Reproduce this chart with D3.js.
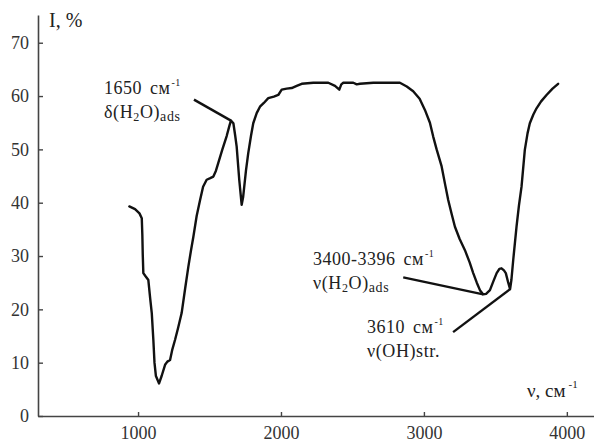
<!DOCTYPE html>
<html>
<head>
<meta charset="utf-8">
<script src="https://cdn.jsdelivr.net/npm/d3@7/dist/d3.min.js"></script>
<style>
  html, body { margin: 0; padding: 0; background: #fff; }
  svg { display: block; }
</style>
</head>
<body>
<svg id="chart" width="594" height="443"></svg>
<script>
// IR spectrum: wavenumber (cm^-1) vs. intensity (%)
const wavenumber = [
  939, 979, 1010, 1026, 1030, 1033, 1037, 1050, 1072, 1085, 1096, 1107, 1115, 1125,
  1147, 1165, 1189, 1205, 1224, 1240, 1259, 1280, 1305, 1330, 1352, 1370, 1387, 1410,
  1434, 1455, 1480, 1505, 1527, 1545, 1562, 1590, 1620, 1640, 1650, 1667, 1680, 1690,
  1708, 1725, 1735, 1743, 1755, 1771, 1790, 1806, 1830, 1853, 1880, 1911, 1950, 1981,
  2005, 2040, 2075, 2110, 2145, 2226, 2331, 2378, 2408, 2422, 2436, 2506, 2530, 2552,
  2646, 2832, 2880, 2925, 2970, 3007, 3042, 3065, 3089, 3124, 3150, 3170, 3195, 3217,
  3250, 3287, 3320, 3345, 3370, 3392, 3415, 3435, 3462, 3485, 3509, 3528, 3543, 3560,
  3573, 3590, 3603, 3612, 3625, 3648, 3665, 3683, 3706, 3725, 3741, 3765, 3788, 3820,
  3858, 3900, 3939
];
const intensity = [
  39.3, 38.8, 38.0, 37.1, 34.0, 30.2, 26.8, 26.3, 25.5, 22.0, 19.3, 14.3, 10.0, 7.5,
  6.1, 7.5, 9.6, 10.2, 10.5, 12.5, 14.3, 16.5, 19.3, 24.0, 28.0, 31.0, 33.6, 37.5,
  40.5, 43.0, 44.3, 44.6, 44.9, 46.0, 47.5, 50.0, 52.5, 54.5, 55.4, 54.9, 52.5, 50.5,
  44.3, 39.6, 41.0, 43.0, 46.0, 49.3, 52.5, 54.9, 56.8, 58.0, 58.7, 59.6, 59.9, 60.2,
  61.2, 61.4, 61.5, 61.9, 62.3, 62.5, 62.5, 61.9, 61.2, 62.2, 62.5, 62.5, 62.2, 62.3,
  62.5, 62.5, 61.8, 60.9, 59.5, 57.4, 55.0, 52.4, 50.0, 46.8, 43.2, 40.5, 37.8, 35.5,
  33.2, 31.1, 28.8, 26.8, 25.0, 23.6, 22.8, 22.9, 23.6, 25.2, 26.8, 27.6, 27.7, 27.3,
  26.8, 25.0, 23.8, 25.5, 29.3, 35.5, 39.5, 43.0, 49.9, 53.0, 54.9, 56.5, 57.7, 59.0,
  60.2, 61.4, 62.3
];

const xTicks = [1000, 2000, 3000, 4000];
const yTicks = [0, 10, 20, 30, 40, 50, 60, 70];

// Band assignments: the wavenumber each pointer pins to, plus the two label lines
const bandAt    = [1650, 3415, 3603];
const bandValue = ["1650", "3400-3396", "3610"];
const bandMode  = [
  [["δ(H", ""], ["2", "sub"], ["O)", ""], ["ads", "sub2"]],
  [["ν(H", ""], ["2", "sub"], ["O)", ""], ["ads", "sub2"]],
  [["ν(OH)str.", ""]]
];

const FONT = '"Liberation Serif", serif';

const svg = d3.select("#chart").attr("font-family", FONT);

const x = d3.scaleLinear().domain([300, 4190]).range([38, 594]);
const y = d3.scaleLinear().domain([0, 75.2]).range([416, 15]);

// Axes
const axisColor = "#444";
const gx = svg.append("g").attr("transform", `translate(0,${y(0)})`)
  .call(d3.axisBottom(x).tickValues(xTicks).tickFormat(d3.format("d"))
    .tickSizeInner(-4).tickSizeOuter(0).tickPadding(10));
const gy = svg.append("g").attr("transform", `translate(${x(300)},0)`)
  .call(d3.axisLeft(y).tickValues(yTicks).tickFormat(d3.format("d"))
    .tickSizeInner(-5).tickSizeOuter(0).tickPadding(9));

[gx, gy].forEach(g => {
  g.attr("font-family", FONT).attr("font-size", 18);
  g.select(".domain").attr("stroke", axisColor).attr("stroke-width", 1.6);
  g.selectAll(".tick line").attr("stroke", axisColor).attr("stroke-width", 1.4);
  g.selectAll(".tick text").attr("fill", "#333")
    .style("font-family", FONT).style("font-size", "18px");
});

// Spectrum curve
const pts = wavenumber.map((w, i) => [w, intensity[i]]);
svg.append("path")
  .datum(pts)
  .attr("fill", "none")
  .attr("stroke", "#111")
  .attr("stroke-width", 2.4)
  .attr("stroke-linejoin", "round")
  .attr("stroke-linecap", "round")
  .attr("d", d3.line().x(d => x(d[0])).y(d => y(d[1])));

function label(xp, yp, size) {
  return svg.append("text").attr("x", xp).attr("y", yp)
    .attr("fill", "#222")
    .style("font-family", FONT).style("font-size", size + "px");
}

// Axis titles
label(49, 27, 20).text("I, %");

const xt = label(527, 397, 19);
xt.append("tspan").text("ν, см");
xt.append("tspan").attr("dx", 3).attr("dy", -9).style("font-size", "11px").text("-1");

// Band annotations: label block and pointer start, offset from the pinned point
const labelPos   = [[104, 94], [313, 265], [367, 333]];
const pointerOff = [[-37, -21], [-80, -17], [-57, 43]];

function valueAt(w) {
  return intensity[wavenumber.indexOf(w)];
}

bandAt.forEach((w, k) => {
  const px = x(w), py = y(valueAt(w));
  svg.append("line")
    .attr("x1", px + pointerOff[k][0]).attr("y1", py + pointerOff[k][1])
    .attr("x2", px).attr("y2", py)
    .attr("stroke", "#111").attr("stroke-width", 2.4);

  const [lx, ly] = labelPos[k];
  const t1 = label(lx, ly, 18).style("letter-spacing", "0.5px");
  t1.append("tspan").text(bandValue[k]);
  t1.append("tspan").attr("dx", 8).text("см");
  t1.append("tspan").attr("dx", 1).attr("dy", -8).style("font-size", "10px").text("-1");

  const t2 = label(lx, ly + 24, 18).style("letter-spacing", "0.6px");
  let shift = 0;
  bandMode[k].forEach(([s, kind]) => {
    const ts = t2.append("tspan").text(s);
    let target = 0, size = "18px";
    if (kind === "sub") { target = 3; size = "12px"; }
    if (kind === "sub2") { target = 3; size = "14px"; }
    ts.attr("dy", target - shift).style("font-size", size);
    shift = target;
  });
});
</script>
</body>
</html>
